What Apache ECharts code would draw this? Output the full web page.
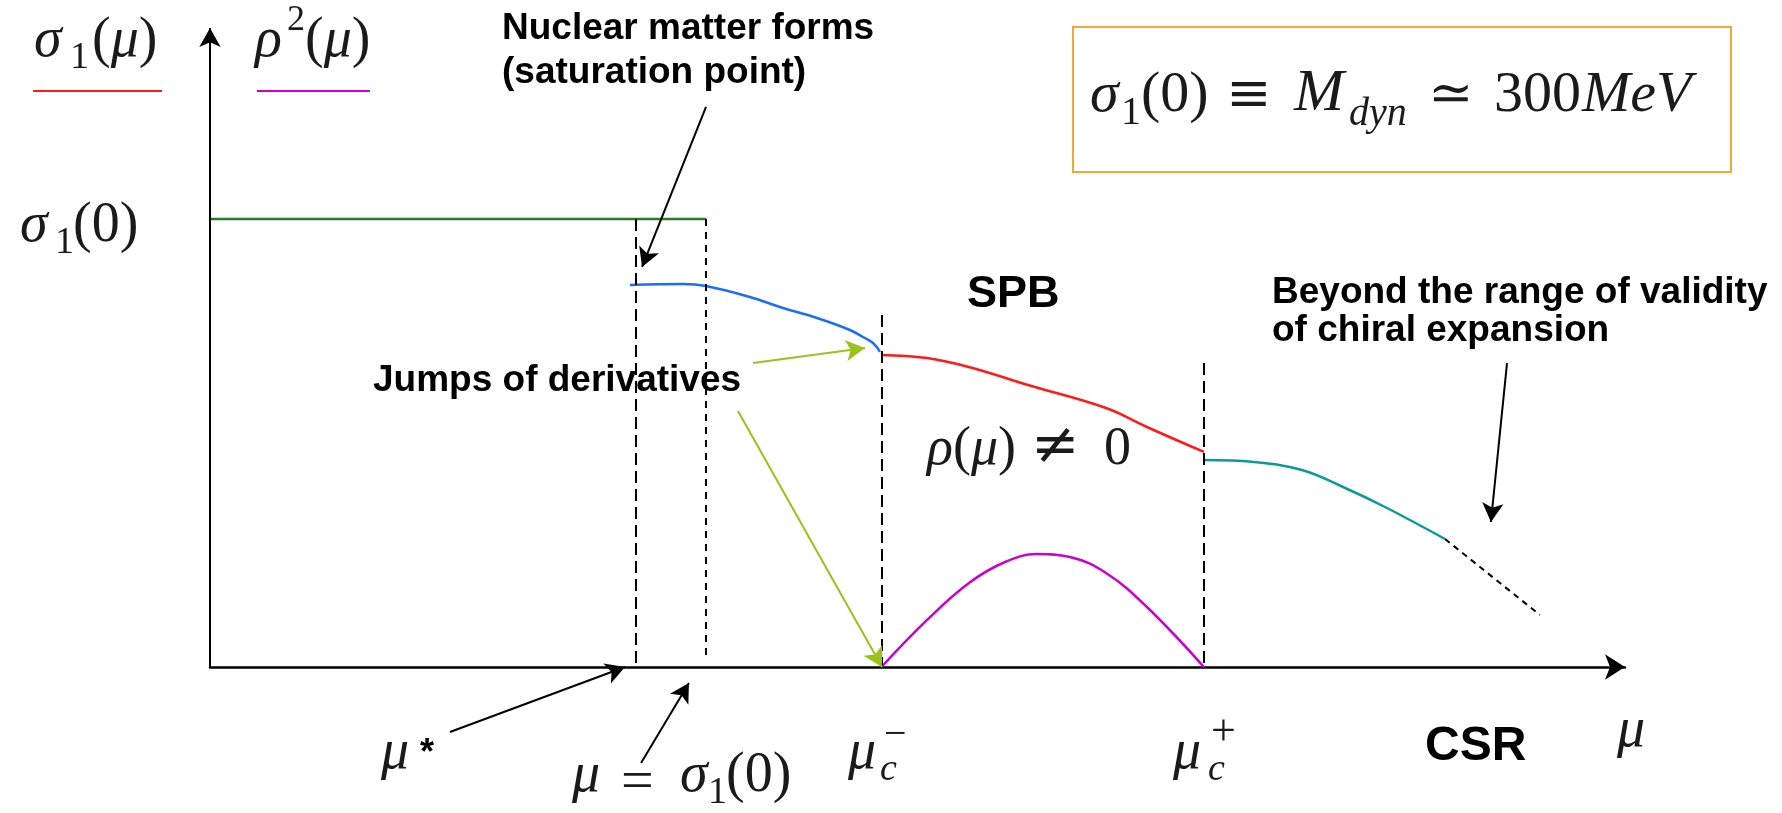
<!DOCTYPE html>
<html>
<head>
<meta charset="utf-8">
<script src="https://cdn.jsdelivr.net/npm/echarts@6/dist/echarts.min.js"></script>
<style>
  html, body { margin: 0; padding: 0; background: #fff; }
  #main { width: 1782px; height: 813px; }
</style>
</head>
<body>
<div id="main"></div>
<script>
// chemical potential mu on x, sigma_1 / rho^2 on y (arbitrary units)
const vacuumSigma = [[0, 70.11], [34.81, 70.11]];
const nuclearSigma = [
  [29.47, 59.78], [33.19, 59.94], [34.81, 59.62], [37.89, 57.9], [40.21, 56.18],
  [42.6, 54.62], [44.91, 52.74], [45.82, 51.64], [46.53, 50.7], [47.02, 49.3]
];
const spbSigma = [
  [47.09, 48.83], [50.32, 48.36], [53.26, 46.95], [57.4, 44.13],
  [62.88, 40.53], [65.75, 37.56], [69.75, 33.65]
];
const csrSigma = [
  [69.75, 32.39], [73.26, 32.08], [76.63, 30.83], [79.51, 28.17], [82.46, 25.04], [86.67, 20.03]
];
const beyondSigma = [[86.67, 20.03], [93.33, 8.14]];
const rhoSquared = [
  [47.12, 0], [50.32, 7.36], [53.26, 13.15], [55.79, 16.43], [58.04, 17.68],
  [60.35, 17.21], [62.88, 14.71], [65.75, 9.39], [69.75, 0]
];

// vertical guides: mu*, mu = sigma1(0), mu_c-, mu_c+
const guideX = [29.89, 34.81, 47.16, 69.75];
const guideTop = [70.11, 70.11, 55.09, 47.57];
const guideBottom = [0, 1.1, 0, 0];

// annotation arrows
const blackArrowFrom = [[34.81, 87.64], [91.02, 47.57], [16.84, -10.17], [30.25, -15.02]];
const blackArrowTo = [[30.32, 62.6], [89.89, 22.69], [29.12, 0], [33.61, -2.5]];
const greenArrowFrom = [[38.11, 47.57], [37.05, 40.06]];
const greenArrowTo = [[45.96, 49.92], [47.16, 0]];

const serif = "'Liberation Serif', 'DejaVu Serif', serif";
const relSerif = "'DejaVu Serif', 'Liberation Serif', serif";
const sans = "'Liberation Sans', Arial, sans-serif";
const ink = '#1a1a1a';

function txt(x, base, text, size, opts) {
  opts = opts || {};
  const family = opts.family || serif;
  const style = (opts.italic ? 'italic ' : '') + (opts.bold ? 'bold ' : '');
  return {
    type: 'text', silent: true, x: x, y: base - 0.34 * size,
    style: {
      text: text, font: style + size + 'px ' + family,
      fill: opts.color || ink, align: 'left', verticalAlign: 'middle'
    }
  };
}
// mixed italic / upright in one run, same size
function mixed(x, base, text, size) {
  return {
    type: 'text', silent: true, x: x, y: base - 0.34 * size,
    style: {
      text: text, font: size + 'px ' + serif, fill: ink, align: 'left', verticalAlign: 'middle',
      rich: {
        i: { fontFamily: serif, fontStyle: 'italic', fontSize: size, fill: ink },
        n: { fontFamily: serif, fontSize: size, fill: ink }
      }
    }
  };
}
function bold(x, base, text, size) {
  return txt(x, base, text, size, { family: sans, bold: true, color: '#000' });
}

const dashStyles = [[12, 6], [7, 6], [12, 6], [12, 6]];
const guides = guideX.map((x, i) => [
  { coord: [x, guideTop[i]], symbol: 'none', lineStyle: { color: '#000', width: 2, type: dashStyles[i] } },
  { coord: [x, guideBottom[i]], symbol: 'none' }
]);
const arrow = (from, to, color) => [
  { coord: from, symbol: 'none', lineStyle: { color: color, width: 2, type: 'solid' } },
  { coord: to, symbol: 'arrow', symbolSize: [16, 19] }
];
const arrows = [
  [{ coord: [0, 0], symbol: 'none', lineStyle: { color: '#000', width: 2, type: 'solid' } },
   { coord: [0, 100], symbol: 'arrow', symbolSize: [16, 19] }]
].concat(
  blackArrowFrom.map((p, i) => arrow(p, blackArrowTo[i], '#000')),
  greenArrowFrom.map((p, i) => arrow(p, greenArrowTo[i], '#99c21a'))
);

const curve = (name, data, color, extra) => Object.assign({
  name: name, type: 'line', data: data, showSymbol: false, symbol: 'none',
  smooth: 0.4, silent: true, clip: false,
  lineStyle: { color: color, width: 2.5 }
}, extra || {});

const option = {
  animation: false,
  backgroundColor: '#fff',
  grid: { left: 210, right: 157, top: 28, bottom: 18.2 },
  xAxis: {
    type: 'value', min: 0, max: 99.3,
    axisLine: { show: true, onZero: true, symbol: ['none', 'arrow'], symbolSize: [19, 20],
      lineStyle: { color: '#000', width: 2.5 } },
    axisTick: { show: false }, axisLabel: { show: false }, splitLine: { show: false }
  },
  yAxis: {
    type: 'value', min: -20, max: 100,
    axisLine: { show: false }, axisTick: { show: false },
    axisLabel: { show: false }, splitLine: { show: false }
  },
  series: [
    curve('vacuum', vacuumSigma, '#2a7a2a', {
      smooth: false,
      markLine: { silent: true, animation: false, label: { show: false }, data: guides }
    }),
    curve('nuclear', nuclearSigma, '#1a6eff'),
    curve('SPB', spbSigma, '#ff1a1a'),
    curve('CSR', csrSigma, '#0a9a9a'),
    curve('beyond', beyondSigma, '#000', { smooth: false, lineStyle: { color: '#000', width: 2, type: [6, 5] } }),
    curve('rho2', rhoSquared, '#cc00cc', {
      markLine: { silent: true, animation: false, label: { show: false }, data: arrows }
    })
  ],
  graphic: [
    // axis titles
    txt(34, 60, 'σ', 56, { italic: true }),
    txt(70, 71, '1', 38),
    mixed(92, 60, '{n|(}{i|μ}{n|)}', 56),
    txt(255, 60, 'ρ', 56, { italic: true }),
    txt(287, 33, '2', 36),
    mixed(305, 60, '{n|(}{i|μ}{n|)}', 56),
    { type: 'line', silent: true, shape: { x1: 33, y1: 91, x2: 162, y2: 91 }, style: { stroke: '#ff1a1a', lineWidth: 2 } },
    { type: 'line', silent: true, shape: { x1: 257, y1: 91, x2: 370, y2: 91 }, style: { stroke: '#cc00cc', lineWidth: 2 } },
    // sigma_1(0) on the y axis
    txt(20, 245, 'σ', 56, { italic: true }),
    txt(55, 256, '1', 38),
    txt(73, 245, '(0)', 56),
    // boxed relation
    { type: 'rect', silent: true, shape: { x: 1073, y: 27, width: 658, height: 145 },
      style: { fill: 'none', stroke: '#f5a733', lineWidth: 2 } },
    txt(1090, 115, 'σ', 58, { italic: true }),
    txt(1121, 127, '1', 40),
    txt(1141, 115, '(0)', 58),
    txt(1226, 115, '≡', 54, { family: relSerif }),
    txt(1294, 115, 'M', 60, { italic: true }),
    txt(1349, 128, 'dyn', 40, { italic: true }),
    txt(1428, 115, '≃', 54, { family: relSerif }),
    txt(1494, 115, '300', 58),
    txt(1582, 115, 'MeV', 58, { italic: true }),
    // rho != 0
    mixed(927, 468, '{i|ρ}{n|(}{i|μ}{n|)}', 54),
    txt(1031, 468, '≠', 58, { family: relSerif }),
    txt(1104, 468, '0', 54),
    // bold annotations
    bold(502, 41, 'Nuclear matter forms', 37),
    bold(502, 85, '(saturation point)', 37),
    bold(373, 393, 'Jumps of derivatives', 37),
    bold(967, 310, 'SPB', 45),
    bold(1272, 305, 'Beyond the range of validity', 37),
    bold(1272, 343, 'of chiral expansion', 37),
    bold(1425, 763, 'CSR', 48),
    // x axis marks
    txt(381, 772, 'μ', 56, { italic: true }),
    txt(420, 766, '*', 36, { family: sans, bold: true, color: '#000' }),
    txt(572, 795, 'μ', 56, { italic: true }),
    txt(621, 803, '=', 58),
    txt(680, 795, 'σ', 56, { italic: true }),
    txt(708, 806, '1', 38),
    txt(726, 795, '(0)', 56),
    txt(848, 772, 'μ', 56, { italic: true }),
    txt(880, 783, 'c', 38, { italic: true }),
    txt(884, 749, '−', 40),
    txt(1173, 772, 'μ', 56, { italic: true }),
    txt(1208, 783, 'c', 38, { italic: true }),
    txt(1211, 748, '+', 44),
    txt(1617, 750, 'μ', 56, { italic: true })
  ]
};

const chart = echarts.init(document.getElementById('main'));
chart.setOption(option);
</script>
</body>
</html>
